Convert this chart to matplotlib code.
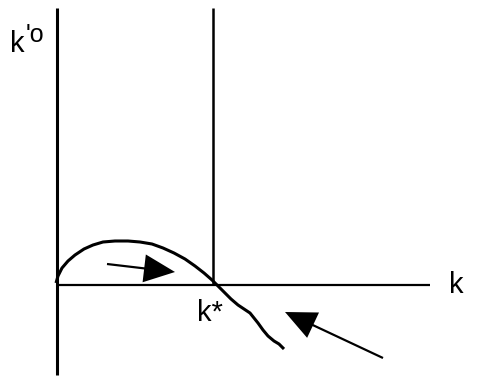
import numpy as np
import matplotlib.pyplot as plt

plt.rcParams['font.family'] = ['Liberation Sans', 'DejaVu Sans']

# Phase diagram of k: curve of k-dot against k, steady state at k*
k_curve = [-1, 1, 5, 11, 18, 27, 36, 46, 58, 71, 83, 95, 106, 117, 128, 138,
           147, 155, 161, 167, 174, 181, 187, 193, 197, 201, 206, 211, 217, 222, 227]
kdot_curve = [2, 9, 17, 24, 30, 36, 40, 43, 44, 44, 43, 41, 37, 32, 26, 19,
              12, 5, -1, -7, -14, -20, -24, -28, -33, -38, -45, -51, -56, -59, -64]
k_star = 156
k_max = 373
kdot_top = 277
kdot_bottom = -90

# arrows: (tail k, tail kdot, head k, head kdot)
arrow_right = (50, 21, 118, 13)
arrow_left = (326, -73, 228, -27)

fig = plt.figure(figsize=(4.91, 3.78), dpi=100)
ax = fig.add_axes([0, 0, 1, 1])
ax.set_xlim(-57, 434)
ax.set_ylim(-93, 285)
ax.axis('off')

# axes and the k* line
ax.plot([0, 0], [kdot_bottom, kdot_top], color='black', lw=2.2, solid_capstyle='butt')
ax.plot([0, k_max], [0, 0], color='black', lw=1.6, solid_capstyle='butt')
ax.plot([k_star, k_star], [0, kdot_top], color='black', lw=1.8, solid_capstyle='butt')

# k-dot curve
ax.plot(k_curve, kdot_curve, color='black', lw=2.2, solid_capstyle='butt',
        solid_joinstyle='round')

for tx, ty, hx, hy in (arrow_right, arrow_left):
    ax.arrow(tx, ty, hx - tx, hy - ty, width=2.2, head_width=28, head_length=31,
             length_includes_head=True, color='black', lw=0)

ax.text(-47, 241, "k", fontsize=21, ha='left', va='center')
ax.text(-31, 250, "'o", fontsize=18, ha='left', va='center')
ax.text(399, 0, "k", fontsize=21, ha='center', va='center')
ax.text(140, -28, "k*", fontsize=21, ha='left', va='center')

fig.savefig('out.png', dpi=100)
